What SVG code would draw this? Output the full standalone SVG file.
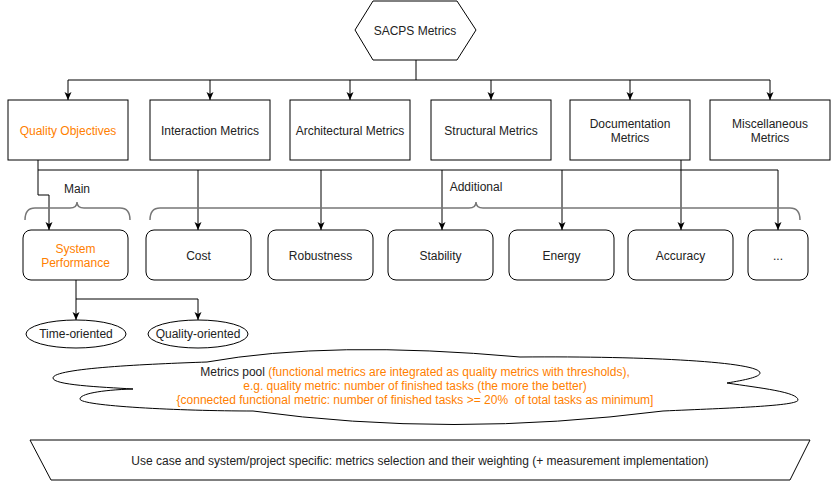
<svg xmlns="http://www.w3.org/2000/svg" width="831" height="481" viewBox="0 0 831 481">
<style>
text{font-family:"Liberation Sans",Arial,sans-serif;font-size:12px;fill:#222;text-anchor:middle}
.o{fill:#FF8000}
.box{fill:#fff;stroke:#000;stroke-width:1}
.ln{fill:none;stroke:#000;stroke-width:1}
.br{fill:none;stroke:#777;stroke-width:1.5}
</style>
<defs>
<marker id="ar" viewBox="0 0 8 8" markerWidth="8" markerHeight="8" refX="8" refY="4" orient="auto" markerUnits="userSpaceOnUse">
<path d="M0,0.5 L8,4 L0,7.5 L2,4 Z" fill="#000"/>
</marker>
</defs>
<g id="connectors">
<path class="ln" d="M416,60 V80 M68,80 H770"/>
<path class="ln" d="M68,80 V100" marker-end="url(#ar)"/>
<path class="ln" d="M210,80 V100" marker-end="url(#ar)"/>
<path class="ln" d="M350,80 V100" marker-end="url(#ar)"/>
<path class="ln" d="M491,80 V100" marker-end="url(#ar)"/>
<path class="ln" d="M630,80 V100" marker-end="url(#ar)"/>
<path class="ln" d="M770,80 V100" marker-end="url(#ar)"/>
<path class="ln" d="M38,160 V195 H49 V230" marker-end="url(#ar)"/>
<path class="ln" d="M38,170 H778"/>
<path class="ln" d="M198,170 V230" marker-end="url(#ar)"/>
<path class="ln" d="M321,170 V230" marker-end="url(#ar)"/>
<path class="ln" d="M442,170 V230" marker-end="url(#ar)"/>
<path class="ln" d="M562,170 V230" marker-end="url(#ar)"/>
<path class="ln" d="M681,160 V230" marker-end="url(#ar)"/>
<path class="ln" d="M778,170 V230" marker-end="url(#ar)"/>
<path class="ln" d="M76,280 V320" marker-end="url(#ar)"/>
<path class="ln" d="M76,299 H198 V320" marker-end="url(#ar)"/>
</g>
<g id="braces">
<path class="br" d="M25,220 Q25,208 35,208 H70 Q77,208 77,202 Q77,208 84,208 H120 Q130,208 130,220"/>
<path class="br" d="M150,220 Q150,208 160,208 H469 Q476,208 476,202 Q476,208 483,208 H790 Q800,208 800,220"/>
<text x="77" y="193">Main</text>
<text x="476" y="191">Additional</text>
</g>
<g id="sacps">
<polygon class="box" points="373,1 457,1 476,30 457,60 373,60 355,30"/>
<text x="415" y="35">SACPS Metrics</text>
</g>
<g id="quality-objectives">
<rect class="box" x="8" y="100" width="120" height="60"/>
<text class="o" x="68" y="135">Quality Objectives</text>
</g>
<g id="interaction-metrics">
<rect class="box" x="150" y="100" width="120" height="60"/>
<text x="210" y="135">Interaction Metrics</text>
</g>
<g id="architectural-metrics">
<rect class="box" x="290" y="100" width="120" height="60"/>
<text x="350" y="135">Architectural Metrics</text>
</g>
<g id="structural-metrics">
<rect class="box" x="431" y="100" width="120" height="60"/>
<text x="491" y="135">Structural Metrics</text>
</g>
<g id="documentation-metrics">
<rect class="box" x="570" y="100" width="120" height="60"/>
<text x="630" y="128">Documentation</text>
<text x="630" y="142">Metrics</text>
</g>
<g id="miscellaneous-metrics">
<rect class="box" x="710" y="100" width="120" height="60"/>
<text x="770" y="128">Miscellaneous</text>
<text x="770" y="142">Metrics</text>
</g>
<g id="system-performance">
<rect class="box" x="23" y="230" width="105" height="50" rx="8"/>
<text class="o" x="75.5" y="253">System</text>
<text class="o" x="75.5" y="267">Performance</text>
</g>
<g id="cost">
<rect class="box" x="146" y="230" width="105" height="50" rx="8"/>
<text x="198.5" y="260">Cost</text>
</g>
<g id="robustness">
<rect class="box" x="268" y="230" width="105" height="50" rx="8"/>
<text x="320.5" y="260">Robustness</text>
</g>
<g id="stability">
<rect class="box" x="388" y="230" width="105" height="50" rx="8"/>
<text x="440.5" y="260">Stability</text>
</g>
<g id="energy">
<rect class="box" x="509" y="230" width="105" height="50" rx="8"/>
<text x="561.5" y="260">Energy</text>
</g>
<g id="accuracy">
<rect class="box" x="628" y="230" width="105" height="50" rx="8"/>
<text x="680.5" y="260">Accuracy</text>
</g>
<g id="more">
<rect class="box" x="748" y="230" width="60" height="50" rx="8"/>
<text x="778" y="260">...</text>
</g>
<g id="time-oriented">
<ellipse class="box" cx="76" cy="334" rx="50" ry="14"/>
<text x="76" y="338">Time-oriented</text>
</g>
<g id="quality-oriented">
<ellipse class="box" cx="198" cy="334" rx="50" ry="14"/>
<text x="198" y="338">Quality-oriented</text>
</g>
<g id="metrics-pool">
<path class="box" d="M520,357 Q330,340 207,362 C150,364 53,368 53,378 C53,385 100,387 133,389 C100,390 80,394 80,399 C80,406 180,411 253,411 Q450,438 663,411 C730,408 798,406 798,400 C798,392 760,388 727,383 C745,380 760,377 760,373 C760,362 650,356 520,357 Z"/>
<text x="415" y="376">Metrics pool <tspan class="o">(functional metrics are integrated as quality metrics with thresholds),</tspan></text>
<text class="o" x="415" y="390">e.g. quality metric: number of finished tasks (the more the better)</text>
<text class="o" x="415" y="404" xml:space="preserve">{connected functional metric: number of finished tasks &gt;= 20%  of total tasks as minimum]</text>
</g>
<g id="use-case">
<polygon class="box" points="30,440 810,440 790,480 51,480"/>
<text x="420" y="465">Use case and system/project specific: metrics selection and their weighting (+ measurement implementation)</text>
</g>
</svg>
